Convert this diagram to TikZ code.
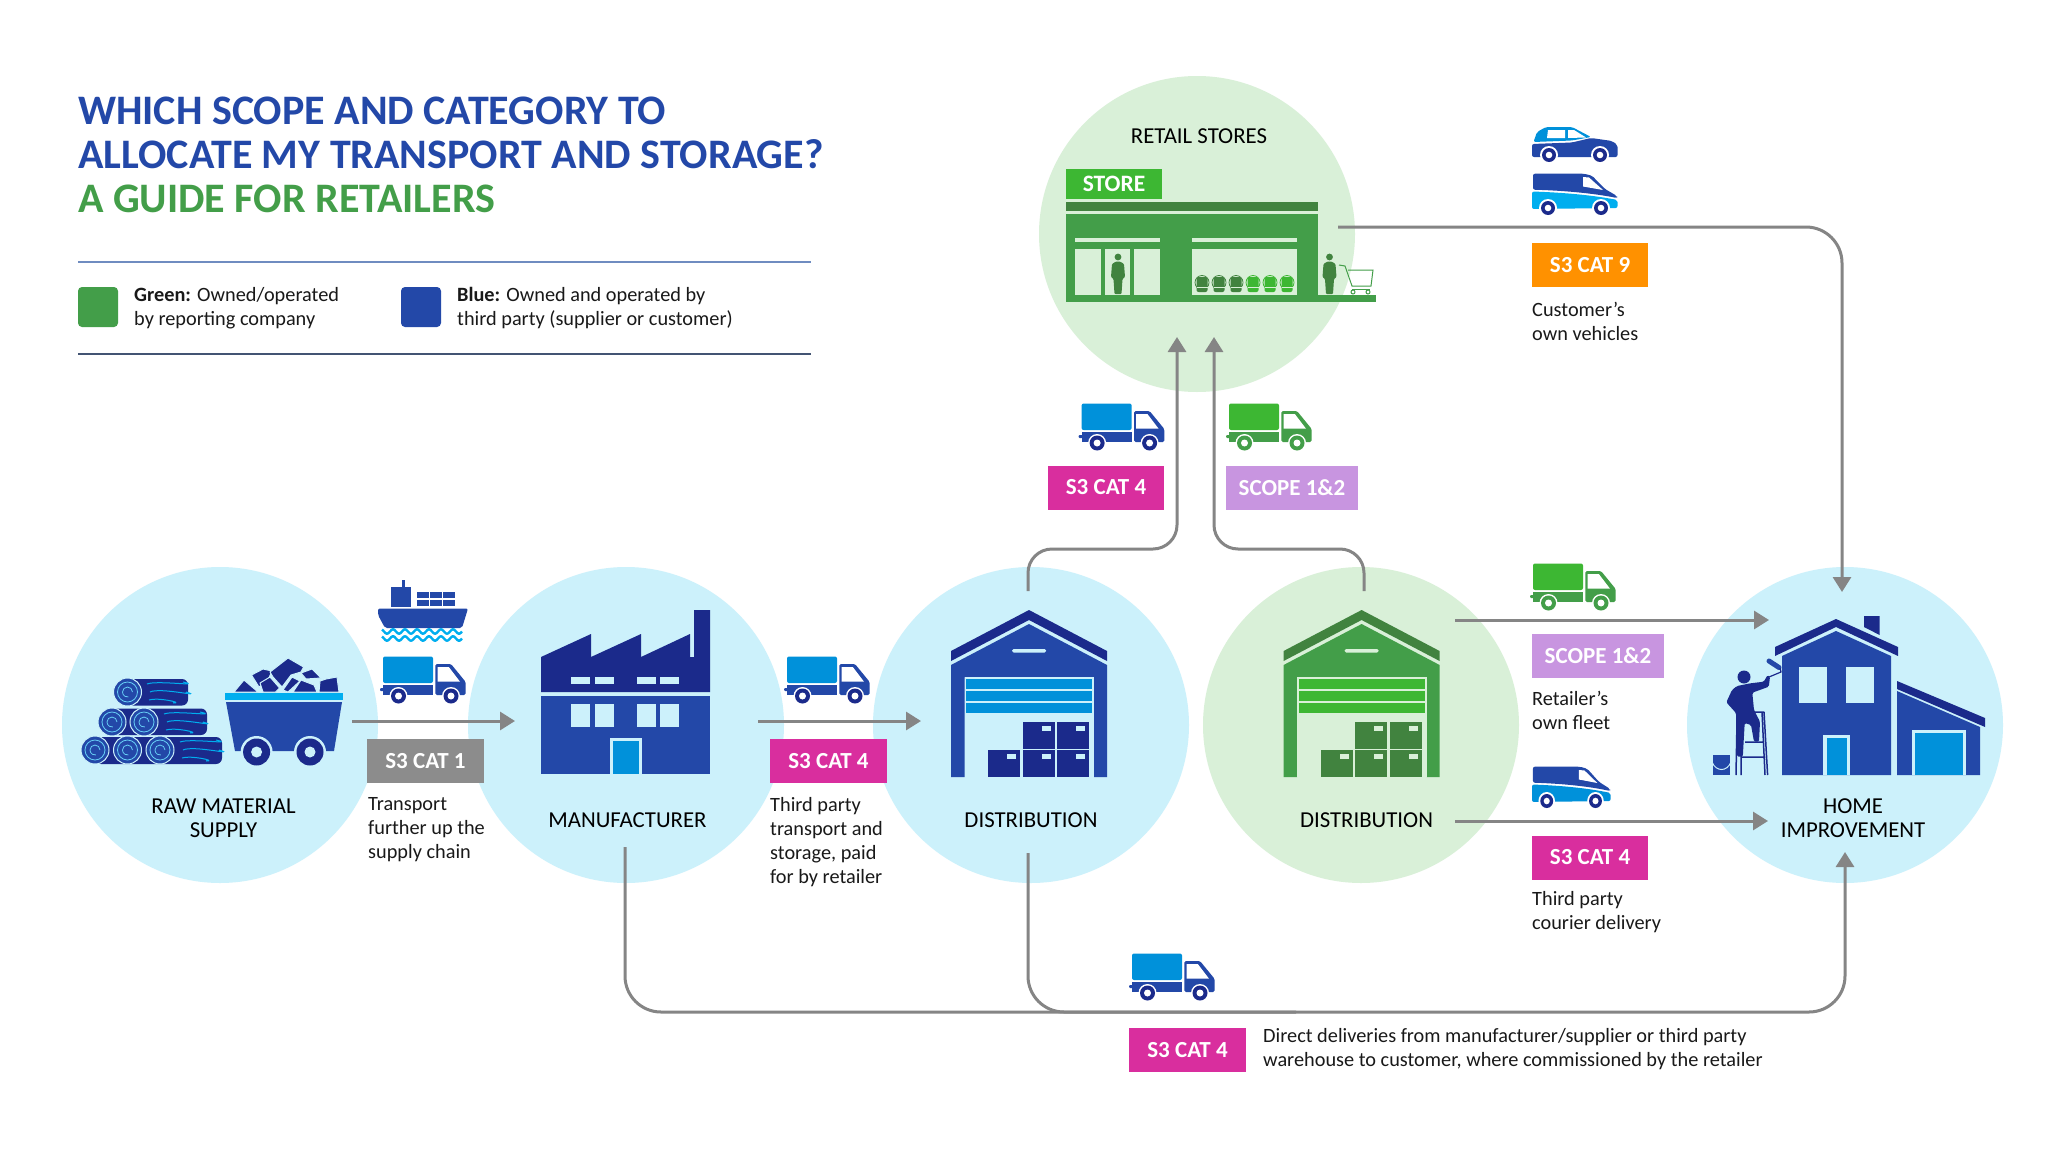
\documentclass[tikz,border=0pt]{standalone}
\usepackage{fontspec}
\usepackage{xcolor}
\setmainfont{Carlito}
\usetikzlibrary{arrows.meta,positioning,calc}

\definecolor{circblue}{HTML}{CCF1FB}
\definecolor{circgreen}{HTML}{D9F0D8}
\definecolor{bluemain}{HTML}{2348A8}
\definecolor{bluedark}{HTML}{1B2A8B}
\definecolor{skyblue}{HTML}{0091DA}
\definecolor{cyanblue}{HTML}{00AEEF}
\definecolor{greenmain}{HTML}{439E49}
\definecolor{greendark}{HTML}{41833F}
\definecolor{greenlight}{HTML}{3DB733}
\definecolor{taggrey}{HTML}{8C8C8C}
\definecolor{linegrey}{HTML}{858585}
\definecolor{tagpink}{HTML}{D92E9E}
\definecolor{taglilac}{HTML}{C895E0}
\definecolor{tagorange}{HTML}{FF9100}
\definecolor{rulecol}{HTML}{6F8CC0}

\tikzset{
  stagecircle/.style={circle, minimum size=316pt, inner sep=0pt},
  stagelabel/.style={font=\fontsize{22.8}{24}\selectfont, align=center, inner sep=0pt, text=black},
  bodytext/.style={font=\fontsize{20.3}{24}\selectfont, align=left, inner sep=0pt, anchor=west, text=black!90},
  tagbox/.style={font=\fontsize{23}{24}\selectfont\bfseries, text=white, minimum height=44pt, inner sep=0pt},
  swatch/.style={rounded corners=4pt, minimum width=40pt, minimum height=40pt, inner sep=0pt},
  flowline/.style={draw=linegrey, line width=3pt},
  flowarrow/.style={flowline, -{Triangle[length=15pt,width=18pt]}},
  coal/.style={fill=bluedark, draw=circblue, line width=1pt, line join=round},
}

% #1,#2 top left, #3 cargo, #4 cab, #5 wheel
\newcommand{\truckicon}[5]{%
  \begin{scope}[shift={(#1,#2)}]
    \fill[#3, rounded corners=2pt] (3,0.5) rectangle (53,27);
    \fill[#4] (3,29) rectangle (53,39);
    \fill[#4, rounded corners=1pt] (0,32) rectangle (4,35);
    \fill[#4, rounded corners=1.5pt] (55.4,8) -- (71,8) -- (85.7,26) -- (85.7,39) -- (55.4,39) -- cycle;
    \fill[white] (57.6,11) -- (68.8,11) -- (80,25.7) -- (57.6,25.7) -- cycle;
    \foreach \wx in {18.5,71}{
      \fill[white] (\wx,40) circle (9pt);
      \fill[#5] (\wx,40) circle (7.5pt);
      \fill[white] (\wx,40) circle (3.5pt);
    }
  \end{scope}}

% #1,#2 top left, #3 x scale, #4 lower colour
\newcommand{\vanicon}[4]{%
  \begin{scope}[shift={(#1,#2)}, xscale=#3]
    \fill[bluemain, rounded corners=2pt] (1,0.7) -- (52,0.7) -- (60,2.7) -- (73,16) -- (85,23) -- (85,25)
      .. controls (60,20) and (30,17.5) .. (1,16.7) -- cycle;
    \fill[#4, rounded corners=2pt] (0,18.5) .. controls (30,19.5) and (60,22) .. (85.5,27) -- (85.5,35) -- (0,36) -- cycle;
    \fill[white] (51,4) -- (57,4.5) -- (71,17) -- (51,13.5) -- cycle;
    \foreach \wx in {16,69}{
      \fill[white] (\wx,35) circle (9pt);
      \fill[bluedark] (\wx,35) circle (7pt);
      \fill[white] (\wx,35) circle (3.3pt);
    }
  \end{scope}}

\newcommand{\caricon}[2]{%
  \begin{scope}[shift={(#1,#2)}]
    \fill[skyblue, rounded corners=2pt] (1.5,15) -- (5,5) -- (14,0) -- (40,0) -- (59,10) -- (40,13.5) -- cycle;
    \fill[white] (16,3) -- (33,3) -- (33,11) -- (15,11) -- cycle;
    \fill[white] (36,3) -- (42,3) -- (54,10.5) -- (36,11) -- cycle;
    \fill[bluemain, rounded corners=2pt] (0,17) -- (40,15.5) -- (59,11) -- (80,14) -- (85.5,18) -- (85.5,30) -- (0,30) -- cycle;
    \foreach \wx in {17,68}{
      \fill[white] (\wx,28) circle (9pt);
      \fill[bluedark] (\wx,28) circle (7pt);
      \fill[white] (\wx,28) circle (3.3pt);
    }
  \end{scope}}

% #1 x of left edge, #2 body, #3 dark, #4 slats, #5 background
\newcommand{\warehouseicon}[5]{%
  \begin{scope}[shift={(#1,0)}]
    \fill[#3] (0,661) -- (0,651) -- (78,610) -- (156,651) -- (156,661) -- (78,620) -- cycle;
    \fill[#2] (0,665) -- (78,624) -- (156,665) -- (156,777) -- (143,777) -- (143,677) -- (13.5,677) -- (13.5,777) -- (0,777) -- cycle;
    \fill[#5, rounded corners=1.5pt] (61,649) rectangle (95,652.5);
    \fill[#5] (13.5,677) rectangle (143,777);
    \foreach \sy in {679,691,703}
      \fill[#4] (15,\sy) rectangle (141,\sy+10);
    \foreach \bx/\by in {37/750,71.6/750,106/750,71.6/722,106/722}{
      \fill[#3] (\bx,\by) rectangle ++(32,27);
      \fill[#5] (\bx+19,\by+4) rectangle ++(9,5);
    }
  \end{scope}}

% #1 centre x, #2 colour
\newcommand{\personicon}[2]{%
  \begin{scope}[shift={(#1,253)}]
    \fill[#2] (0,4) circle (3.4pt);
    \fill[#2, rounded corners=1pt] (-2,8.5) -- (2,8.5) -- (6,11) -- (7,24) -- (4.5,26) -- (3.5,41)
      -- (-3.5,41) -- (-4.5,26) -- (-7,24) -- (-6,11) -- cycle;
  \end{scope}}

% #1,#2 centre of a log end
\newcommand{\logend}[2]{%
  \fill[bluemain] (#1,#2) circle (14pt);
  \draw[circblue, line width=1pt] (#1,#2) circle (14pt);
  \draw[cyanblue!60!white, line width=0.8pt] (#1,#2) circle (10pt);
  \draw[cyanblue!60!white, line width=0.8pt] (#1,#2) ++(5,0) arc[start angle=0, end angle=280, radius=5pt];}

% #1,#2 start, grain of a log
\newcommand{\loggrain}[2]{%
  \draw[cyanblue, line width=1pt] (#1,#2) .. controls +(10,-4) and +(22,5) .. +(36,-2);
  \draw[cyanblue, line width=1pt] (#1+3,#2+8) .. controls +(10,-5) and +(20,6) .. +(36,0);
  \draw[cyanblue, line width=1pt] (#1+2,#2+16) .. controls +(8,-3) and +(12,0) .. +(24,3);}

\begin{document}
\begin{tikzpicture}[x=1pt, y=-1pt]
    \useasboundingbox (0,0) rectangle (2059,1159);
    \fill[white] (0,0) rectangle (2059,1159);

    % title and legend
    \node (titleText) [anchor=north west, inner sep=0pt, align=left, text=bluemain,
        font=\fontsize{42}{44}\selectfont\bfseries] at (78,97)
        {WHICH SCOPE AND CATEGORY TO\\ALLOCATE MY TRANSPORT AND STORAGE?\\\textcolor{greenmain}{A GUIDE FOR RETAILERS}};
    \draw[rulecol, line width=1.2pt] (78,262) -- (811,262);
    \draw[rulecol!60!black, line width=1.2pt] (78,354) -- (811,354);
    \node (legendGreen) [swatch, fill=greenmain] at (98,307) {};
    \node (legendBlue) [swatch, fill=bluemain] at (421,307) {};
    \node (legendGreenText) [bodytext] at (134,308) {\textbf{Green:} Owned/operated\\by reporting company};
    \node (legendBlueText) [bodytext] at (457,308) {\textbf{Blue:} Owned and operated by\\third party (supplier or customer)};

    % circles
    \node (rawCircle) [stagecircle, fill=circblue] at (220,725) {};
    \node (makerCircle) [stagecircle, fill=circblue] at (626,725) {};
    \node (distCircle) [stagecircle, fill=circblue] at (1031,725) {};
    \node (ownDistCircle) [stagecircle, fill=circgreen] at (1361,725) {};
    \node (homeCircle) [stagecircle, fill=circblue] at (1845,725) {};
    \node (storeCircle) [stagecircle, fill=circgreen] at (1197,234) {};

    % connector ends
    \coordinate (rawOut) at (352,721);
    \coordinate (makerIn) at (515,721);
    \coordinate (makerOut) at (758,721);
    \coordinate (distIn) at (921,721);
    \coordinate (distUp) at (1028,591);
    \coordinate (ownDistUp) at (1364,591);
    \coordinate (distBend) at (1177,549);
    \coordinate (ownDistBend) at (1214,549);
    \coordinate (storeInA) at (1177,337);
    \coordinate (storeInB) at (1214,337);
    \coordinate (storeOut) at (1338,227);
    \coordinate (homeTop) at (1842,592);
    \coordinate (ownDistOutA) at (1455,620);
    \coordinate (homeInA) at (1769,620);
    \coordinate (ownDistOutB) at (1455,821);
    \coordinate (homeInB) at (1768,821);
    \coordinate (makerDown) at (625,847);
    \coordinate (distDown) at (1028,853);
    \coordinate (railEnd) at (1845,1012);
    \coordinate (railMid) at (1296,1012);
    \coordinate (homeBottom) at (1845,852);

    \draw[flowarrow] (rawOut) -- (makerIn);
    \draw[flowarrow] (makerOut) -- (distIn);
    \draw[flowarrow, rounded corners=24pt] (distUp) |- (distBend) -- (storeInA);
    \draw[flowarrow, rounded corners=24pt] (ownDistUp) |- (ownDistBend) -- (storeInB);
    \draw[flowarrow, rounded corners=36pt] (storeOut) -| (homeTop);
    \draw[flowarrow] (ownDistOutA) -- (homeInA);
    \draw[flowarrow] (ownDistOutB) -- (homeInB);
    \draw[flowarrow, rounded corners=36pt] (makerDown) |- (railEnd) -- (homeBottom);
    \draw[flowline, rounded corners=36pt] (distDown) |- (railMid);

    % logs
    \fill[bluedark, rounded corners=6pt] (95,737) rectangle (222,764);
    \fill[bluedark, rounded corners=6pt] (112,708.5) rectangle (207,735);
    \fill[bluedark, rounded corners=6pt] (127,679) rectangle (188,705.5);
    \logend{127.5}{692} \logend{112}{722} \logend{144}{722}
    \logend{95}{750} \logend{127.5}{750} \logend{160}{750}
    \loggrain{147}{684} \loggrain{164}{714} \loggrain{180}{742}

    % cart
    \filldraw[coal] (234,692) -- (244,680) -- (258,692) -- cycle;
    \filldraw[coal] (251.5,675) -- (263,669) -- (272,671) -- (268,680) -- (259,687) -- cycle;
    \filldraw[coal] (270,672) -- (288,658) -- (303.6,667) -- (301,672) -- (291,675) -- (282,687) -- (273,677) -- cycle;
    \filldraw[coal] (260,683) -- (270,677) -- (279.6,688) -- (275.5,692) -- (263,692) -- cycle;
    \filldraw[coal] (283,690) -- (292,677) -- (300,681) -- (288,692) -- cycle;
    \filldraw[coal] (301,673) -- (312,669) -- (321,678) -- (306,679) -- cycle;
    \filldraw[coal] (293,692) -- (301,680) -- (314,685) -- (317,692) -- cycle;
    \filldraw[coal] (320,681) -- (326,679) -- (337,677) -- (339,692) -- (319,692) -- cycle;
    \fill[cyanblue] (224.5,693) rectangle (343,700);
    \fill[bluemain] (226,702) -- (342,702) -- (334,751) -- (235,751) -- cycle;
    \foreach \wx in {256.6,310}{
      \fill[circblue] (\wx,752) circle (16pt);
      \fill[bluedark] (\wx,752) circle (13.5pt);
      \fill[circblue] (\wx,752) circle (5.5pt);
    }

    % factory
    \fill[bluedark] (541,692) -- (541,657) -- (591,634) -- (591,657) -- (641,634) -- (641,657) -- (690,634)
        -- (690,657) -- (694,657) -- (694,610) -- (710,610) -- (710,692) -- cycle;
    \fill[bluemain] (541,696) rectangle (710,774);
    \foreach \wx in {571,595,637,660}{
      \fill[circblue] (\wx,677) rectangle ++(19,7);
      \fill[circblue] (\wx,704) rectangle ++(19,23);
    }
    \fill[circblue] (610,738) rectangle (642,774);
    \fill[skyblue] (613,741) rectangle (639,774);

    % warehouses
    \warehouseicon{951}{bluemain}{bluedark}{skyblue}{circblue}
    \warehouseicon{1283.6}{greenmain}{greendark}{greenlight}{circgreen}

    % store
    \node (storeSign) [fill=greenlight, text=white, font=\fontsize{23.5}{24}\selectfont\bfseries, inner sep=0pt,
        minimum width=96.5pt, minimum height=30pt] at (1114,184) {STORE};
    \fill[greendark] (1066,202) rectangle (1318,211);
    \fill[greenmain] (1066,214) rectangle (1318,302);
    \fill[greenmain] (1318,295) rectangle (1376,302);
    \fill[circgreen] (1075,238) rectangle (1160,242);
    \fill[circgreen] (1192,238) rectangle (1297,242);
    \foreach \wx/\wy in {1075/1101,1105/1130,1134/1160}
      \fill[circgreen] (\wx,249) rectangle (\wy,295);
    \fill[circgreen] (1192,249) rectangle (1297,295);
    \foreach \bx/\bc in {1202/greendark,1219/greendark,1236/greendark,1253/greenlight,1270/greenlight,1287/greenlight}{
      \fill[\bc, rounded corners=2pt] (\bx-5.5,277) rectangle (\bx+5.5,292);
      \draw[\bc, line width=0.8pt] (\bx,282.5) circle (7pt);
      \draw[circgreen, line width=0.8pt] (\bx-5.5,287) -- (\bx+5.5,287);
    }
    \personicon{1118}{greendark}
    \personicon{1329.5}{greendark}
    \draw[greenmain, line width=1pt] (1339,265) -- (1345,266) -- (1352,286) -- (1371,286) -- (1373,270) -- (1348,270);
    \draw[greenmain, line width=1pt] (1352,289) -- (1370,289);
    \draw[greenmain, line width=1pt] (1353,292) circle (2pt) (1368,292) circle (2pt);

    % house
    \fill[bluedark] (1864,616) -- (1879.6,616) -- (1879.6,635) -- (1864,627) -- cycle;
    \fill[bluedark] (1775,656) -- (1775,647) -- (1836,619) -- (1898,647) -- (1898,656) -- (1836,627) -- cycle;
    \fill[bluemain] (1782,656) -- (1836,631) -- (1891,656) -- (1891,775) -- (1782,775) -- cycle;
    \fill[circblue] (1799,667) rectangle (1827,703);
    \fill[circblue] (1846,667) rectangle (1874,703);
    \fill[circblue] (1823,735) rectangle (1850,775);
    \fill[skyblue] (1827,738) rectangle (1847,775);
    \fill[bluedark] (1897,681) -- (1985,718) -- (1985,727) -- (1897,689) -- cycle;
    \fill[bluemain] (1897,691) -- (1980,727) -- (1980,775) -- (1897,775) -- cycle;
    \fill[circblue] (1912,730) rectangle (1965.5,775);
    \fill[skyblue] (1915,733) rectangle (1962.5,775);

    % painter
    \draw[bluedark, line width=1.5pt] (1737,720) -- (1736,775) (1741,740) -- (1741,775)
        (1762,712) -- (1765,775) (1764,712) -- (1767.6,775)
        (1741,757) -- (1765,757) (1745,742) -- (1763,742) (1752,712) -- (1764,712);
    \fill[bluedark] (1744,677) circle (6.5pt);
    \fill[bluedark, rounded corners=1.5pt] (1737,686) -- (1750.4,683.3) -- (1763.8,681.7) -- (1767.6,675) -- (1770,676.7)
        -- (1768.8,686.7) -- (1752.3,692.7) -- (1754,710) -- (1760,721.7) -- (1759,741.7) -- (1754,741.7)
        -- (1751,725) -- (1744.7,723) -- (1742.8,756.7) -- (1737,756.7) -- (1736,713) -- (1726.3,702.3) -- (1732,690) -- cycle;
    \draw[bluemain, line width=5pt, line cap=round] (1769,661) -- (1779,667.5);
    \draw[bluedark, line width=1.2pt] (1780,668) -- (1781,672) -- (1769,677);
    \fill[bluemain] (1713,755) rectangle (1730,775);
    \draw[circblue, line width=1pt] (1712,762) .. controls (1716,772) and (1727,772) .. (1731,762);

    % ship
    \fill[bluemain] (391,587) rectangle (411,607);
    \fill[bluemain] (402,580) rectangle (405,590);
    \foreach \cx in {417,430,443}{
      \fill[bluemain] (\cx,592) rectangle ++(12,6);
      \fill[bluemain] (\cx,600) rectangle ++(12,6);
    }
    \fill[bluemain, rounded corners=2pt] (378,608.5) -- (468,608.5) -- (462,628) -- (385,628) -- (378,615) -- cycle;
    \foreach \wy in {631.5,638.5}
      \draw[cyanblue, line width=2.4pt, domain=382:462, samples=70] plot (\x,{\wy+2.2*sin(\x*30)});

    % vehicles
    \truckicon{380}{656}{skyblue}{bluemain}{bluedark}
    \truckicon{784}{656}{skyblue}{bluemain}{bluedark}
    \truckicon{1078.6}{403}{skyblue}{bluemain}{bluedark}
    \truckicon{1226}{403}{greenlight}{greenmain}{greenmain}
    \truckicon{1530}{563}{greenlight}{greenmain}{greenmain}
    \truckicon{1129}{953}{skyblue}{bluemain}{bluedark}
    \caricon{1532}{127}
    \vanicon{1532}{173}{1}{cyanblue}
    \vanicon{1532}{766}{0.92}{skyblue}

    % stage labels
    \node (rawLabel) [stagelabel] at (223.5,818) {RAW MATERIAL\\SUPPLY};
    \node (makerLabel) [stagelabel] at (627.5,820) {MANUFACTURER};
    \node (distLabel) [stagelabel] at (1031,820) {DISTRIBUTION};
    \node (ownDistLabel) [stagelabel] at (1366.5,820) {DISTRIBUTION};
    \node (homeLabel) [stagelabel] at (1853,818) {HOME\\IMPROVEMENT};
    \node (storeLabel) [stagelabel] at (1199,136) {RETAIL STORES};

    % tags
    \node (tagRaw) [tagbox, fill=taggrey, minimum width=117pt] at (425.5,761) {S3 CAT 1};
    \node (tagMaker) [tagbox, fill=tagpink, minimum width=117pt] at (828.5,761) {S3 CAT 4};
    \node (tagStoreA) [tagbox, fill=tagpink, minimum width=116pt] at (1106,487.5) {S3 CAT 4};
    \node (tagStoreB) [tagbox, fill=taglilac, minimum width=132pt] at (1292,487.5) {SCOPE 1\&2};
    \node (tagOwnVehicle) [tagbox, fill=tagorange, minimum width=116pt] at (1590,265) {S3 CAT 9};
    \node (tagFleet) [tagbox, fill=taglilac, minimum width=132pt] at (1598,655.5) {SCOPE 1\&2};
    \node (tagCourier) [tagbox, fill=tagpink, minimum width=116pt] at (1590,857.5) {S3 CAT 4};
    \node (tagDirect) [tagbox, fill=tagpink, minimum width=117pt] at (1187.5,1050) {S3 CAT 4};

    % notes
    \node (noteRaw) [bodytext] at (368,830) {Transport\\further up the\\supply chain};
    \node (noteMaker) [bodytext] at (770,842) {Third party\\transport and\\storage, paid\\for by retailer};
    \node (noteVehicle) [bodytext] at (1532,321) {Customer’s\\own vehicles};
    \node (noteFleet) [bodytext] at (1532,710.5) {Retailer’s\\own fleet};
    \node (noteCourier) [bodytext] at (1532,912) {Third party\\courier delivery};
    \node (noteDirect) [bodytext] at (1263,1049) {Direct deliveries from manufacturer/supplier or third party\\warehouse to customer, where commissioned by the retailer};
\end{tikzpicture}
\end{document}
